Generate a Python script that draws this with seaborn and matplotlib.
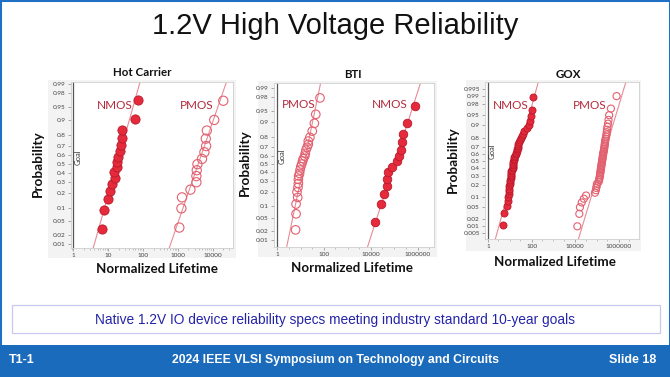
import numpy as np
import pandas as pd
import matplotlib
matplotlib.use('Agg')
import matplotlib.pyplot as plt
import matplotlib.ticker as ticker
from matplotlib.patches import Rectangle
import seaborn as sns
from statistics import NormalDist

# ---- data (normalized lifetime, cumulative probability) ----
hc_nmos_life = [6.5, 7.8, 10, 11.3, 12.6, 15.4, 15.1, 17.4, 17.4, 18.6, 21.9, 23.4, 24.5, 25.7, 59, 73]
hc_nmos_prob = [0.031, 0.092, 0.158, 0.218, 0.28, 0.34, 0.405, 0.47, 0.53, 0.585, 0.65, 0.71, 0.78, 0.84, 0.905, 0.969]
hc_pmos_life = [1100, 1260, 1310, 2290, 3390, 3390, 3470, 3630, 4900, 5750, 6450, 6300, 6750, 11000, 20000]
hc_pmos_prob = [0.033, 0.10, 0.168, 0.23, 0.30, 0.365, 0.43, 0.5, 0.56, 0.635, 0.70, 0.77, 0.835, 0.90, 0.967]

bti_pmos_life = [6.0, 6.3, 6.3, 7.4, 6.9, 7.6, 7.9, 7.9, 8.1, 8.9, 9.3, 10.0, 11.0, 12.0, 12.9, 14.8,
                 15.5, 16.6, 18.6, 20.9, 20.9, 24.5, 30.9, 38.0, 43.7, 66.1]
bti_pmos_prob = [0.022, 0.064, 0.111, 0.154, 0.197, 0.239, 0.278, 0.321, 0.359, 0.389, 0.429, 0.469, 0.502,
                 0.539, 0.567, 0.599, 0.63, 0.667, 0.698, 0.729, 0.761, 0.795, 0.845, 0.895, 0.937, 0.979]
bti_nmos_life = [14800, 26300, 37200, 46800, 49000, 55000, 81300, 123000, 155000, 182000, 204000, 240000,
                 331000, 741000]
bti_nmos_prob = [0.037, 0.109, 0.18, 0.25, 0.33, 0.40, 0.47, 0.54, 0.60, 0.67, 0.755, 0.82, 0.895, 0.963]

gox_nmos_life = [5.0, 5.6, 7.2, 8.5, 8.7, 8.9, 9.1, 9.3, 9.5, 10.2, 10.5, 10.7, 11.0, 11.2, 11.5, 11.7,
                 12.0, 12.6, 13.5, 13.8, 14.1, 14.5, 14.8, 15.1, 15.5, 15.8, 16.6, 19.1, 20.0, 20.9, 21.9,
                 22.9, 24.0, 25.1, 27.5, 30.9, 33.1, 36.3, 39.8, 42.7, 60.3, 75.9, 85.1, 95.5, 105, 112]
gox_nmos_prob = [0.011, 0.033, 0.054, 0.076, 0.098, 0.12, 0.141, 0.163, 0.185, 0.207, 0.228, 0.25, 0.272,
                 0.293, 0.315, 0.337, 0.359, 0.38, 0.402, 0.424, 0.446, 0.467, 0.489, 0.511, 0.533, 0.554,
                 0.576, 0.598, 0.62, 0.641, 0.663, 0.685, 0.707, 0.728, 0.75, 0.772, 0.793, 0.815, 0.837,
                 0.859, 0.88, 0.902, 0.924, 0.946, 0.967, 0.989]
gox_pmos_life = [12600, 15500, 16600, 20000, 25100, 31600, 81300, 89100, 93300, 97700, 100000, 120000,
                 126000, 129000, 135000, 138000, 141000, 145000, 148000, 151000, 155000, 158000, 162000,
                 166000, 170000, 174000, 178000, 182000, 186000, 191000, 195000, 200000, 209000, 214000,
                 219000, 224000, 229000, 234000, 240000, 251000, 263000, 275000, 282000, 288000, 302000,
                 324000, 339000, 363000, 437000, 794000]
gox_pmos_prob = [0.01, 0.03, 0.05, 0.07, 0.09, 0.11, 0.13, 0.15, 0.17, 0.19, 0.21, 0.23, 0.25, 0.27, 0.29,
                 0.31, 0.33, 0.35, 0.37, 0.39, 0.41, 0.43, 0.45, 0.47, 0.49, 0.51, 0.53, 0.55, 0.57, 0.59,
                 0.61, 0.63, 0.65, 0.67, 0.69, 0.71, 0.73, 0.75, 0.77, 0.79, 0.81, 0.83, 0.85, 0.87, 0.89,
                 0.91, 0.93, 0.95, 0.97, 0.99]

# lognormal fit lines: log10 median and log10 sigma
hc_nmos_fit = (1.25, 0.279)
hc_pmos_fit = (3.58, 0.341)
bti_pmos_fit = (1.13, 0.288)
bti_nmos_fit = (4.99, 0.450)
gox_nmos_fit = (1.315, 0.351)
gox_pmos_fit = (5.23, 0.388)

prob_ticks = [0.01, 0.02, 0.05, 0.1, 0.2, 0.3, 0.4, 0.5, 0.6, 0.7, 0.8, 0.9, 0.95, 0.98, 0.99]
prob_ticks_gox = [0.005] + prob_ticks + [0.995]

W, H = 670, 377
RED = '#e52a3c'
RED_EDGE = '#b8192b'
PINK = '#e2606f'
LINE = '#e88b95'
LBL = '#b3293a'
nd = NormalDist()


def fx(px):
    return px / W


def fy(py):
    return 1 - py / H


def series_df(life, prob, name):
    return pd.DataFrame({'life': life, 'z': [nd.inv_cdf(p) for p in prob], 'dev': name})


panels = [
    dict(title='Hot Carrier', box=(71, 81.7, 233, 248), bg=(48, 80, 236, 258),
         xlim=(0.86, 38000), ylim=(-2.43, 2.39), yt=prob_ticks,
         xmaj=[1, 10, 100, 1000, 10000], xmin_dec=False,
         tpos=(142, 73), ypos=(37.5, 164), xpos=(157, 269), ms=44, goal_z=0.21,
         series=[(hc_nmos_life, hc_nmos_prob, hc_nmos_fit, 'NMOS', True, (15.7, 1.69)),
                 (hc_pmos_life, hc_pmos_prob, hc_pmos_fit, 'PMOS', False, (3470, 1.69))]),
    dict(title='BTI', box=(274, 82.7, 434.3, 246.7), bg=(258, 81, 437, 257),
         xlim=(0.72, 5.0e6), ylim=(-2.53, 2.50), yt=prob_ticks,
         xmaj=[1, 100, 10000, 1000000], xmin_dec=True,
         tpos=(353, 75), ypos=(245, 163), xpos=(352, 268), ms=38, goal_z=0.23,
         series=[(bti_pmos_life, bti_pmos_prob, bti_pmos_fit, 'PMOS', False, (7.9, 1.82)),
                 (bti_nmos_life, bti_nmos_prob, bti_nmos_fit, 'NMOS', True, (64600, 1.82))]),
    dict(title='GOX', box=(485, 82, 639, 239), bg=(466, 80, 641, 251),
         xlim=(0.73, 8.5e6), ylim=(-2.78, 2.83), yt=prob_ticks_gox,
         xmaj=[1, 100, 10000, 1000000], xmin_dec=True,
         tpos=(568, 75), ypos=(453, 160), xpos=(555, 262), ms=26, goal_z=0.34,
         series=[(gox_nmos_life, gox_nmos_prob, gox_nmos_fit, 'NMOS', True, (11, 1.98)),
                 (gox_pmos_life, gox_pmos_prob, gox_pmos_fit, 'PMOS', False, (47900, 1.98))]),
]

sns.set_style('white')
plt.rcParams['font.family'] = ['Lato', 'DejaVu Sans']
fig = plt.figure(figsize=(6.7, 3.77), dpi=100)
fig.patch.set_facecolor('white')

# slide frame, footer bar and note box
fig.patches.append(Rectangle((0, 0), 1, 1, transform=fig.transFigure, fill=False,
                             edgecolor='#1f6fc5', linewidth=2.2, zorder=0))
fig.patches.append(Rectangle((0, 0), 1, fy(345), transform=fig.transFigure,
                             facecolor='#1b6bbd', edgecolor='none', zorder=1))
fig.patches.append(Rectangle((fx(12), fy(333)), fx(648), (333 - 305) / H, transform=fig.transFigure,
                             facecolor='white', edgecolor='#c9c9ee', linewidth=0.9, zorder=1))

fig.text(0.5, fy(26), '1.2V High Voltage Reliability', ha='center', va='center', fontsize=21,
         family=['Liberation Sans', 'DejaVu Sans'], color='#111111')
fig.text(0.5, fy(320), 'Native 1.2V IO device reliability specs meeting industry standard 10-year goals',
         ha='center', va='center', fontsize=9.9, color='#2424a8',
         family=['Liberation Sans', 'DejaVu Sans'])
footer_font = ['Liberation Sans', 'DejaVu Sans']
fig.text(fx(9), fy(360), 'T1-1', ha='left', va='center', fontsize=9, color='white',
         weight='bold', family=footer_font)
fig.text(0.5, fy(360), '2024 IEEE VLSI Symposium on Technology and Circuits', ha='center', va='center',
         fontsize=8.8, color='white', weight='bold', family=footer_font)
fig.text(fx(656), fy(360), 'Slide 18', ha='right', va='center', fontsize=9, color='white',
         weight='bold', family=footer_font)

for p in panels:
    x0, y0, x1, y1 = p['bg']
    fig.patches.append(Rectangle((fx(x0), fy(y1)), fx(x1 - x0), (y1 - y0) / H, transform=fig.transFigure,
                                 facecolor='#f3f3f3', edgecolor='none', zorder=1))
    l, t, r, b = p['box']
    ax = fig.add_axes([fx(l), fy(b), fx(r - l), (b - t) / H])
    ax.set_zorder(2)
    ax.set_facecolor('white')
    ax.set_xscale('log')

    xs = np.logspace(np.log10(p['xlim'][0]), np.log10(p['xlim'][1]), 200)
    for life, prob, fit, name, filled, lab in p['series']:
        d = series_df(life, prob, name)
        zs = (np.log10(xs) - fit[0]) / fit[1]
        sns.lineplot(x=xs, y=zs, ax=ax, color=LINE, linewidth=0.8, zorder=2)
        if filled:
            sns.scatterplot(data=d, x='life', y='z', ax=ax, s=p['ms'], color=RED,
                            edgecolor=RED_EDGE, linewidth=0.6, zorder=3)
        else:
            sns.scatterplot(data=d, x='life', y='z', ax=ax, s=p['ms'], color='white',
                            edgecolor=PINK, linewidth=0.8, zorder=3)
            ax.collections[-1].set_facecolor('none')
        ax.text(lab[0], lab[1], name, ha='center', va='center', fontsize=8.5, color=LBL, zorder=4)

    ax.axvline(1, color='#555555', linewidth=0.9, zorder=1)
    ax.text(1.12, p['goal_z'], 'Goal', rotation=90, ha='left', va='center', fontsize=5.5, color='#333333')

    ax.set_xlim(*p['xlim'])
    ax.set_ylim(*p['ylim'])
    ax.set_yticks([nd.inv_cdf(v) for v in p['yt']])
    ax.set_yticklabels([str(v) for v in p['yt']])
    ax.xaxis.set_major_locator(ticker.FixedLocator(p['xmaj']))
    ax.xaxis.set_major_formatter(ticker.FixedFormatter([str(v) for v in p['xmaj']]))
    if p['xmin_dec']:
        ax.xaxis.set_minor_locator(ticker.LogLocator(base=10, subs=(1.0, 3.0), numticks=20))
    else:
        ax.xaxis.set_minor_locator(ticker.LogLocator(base=10, subs=np.arange(2, 10), numticks=20))
    ax.xaxis.set_minor_formatter(ticker.NullFormatter())
    ax.tick_params(axis='both', which='major', labelsize=4.6, labelcolor='#444444', color='#888888',
                   length=2.2, width=0.5, pad=1.5, direction='out', left=True, bottom=True)
    ax.tick_params(axis='x', which='minor', length=1.2, width=0.4, color='#999999', bottom=True)
    for s in ax.spines.values():
        s.set_color('#cfcfcf')
        s.set_linewidth(0.6)
    ax.set_xlabel('')
    ax.set_ylabel('')

    fig.text(fx(p['tpos'][0]), fy(p['tpos'][1]), p['title'], ha='center', va='center',
             fontsize=8.3, weight='bold', color='#111111')
    fig.text(fx(p['ypos'][0]), fy(p['ypos'][1]), 'Probability', ha='center', va='center', rotation=90,
             fontsize=9.8, weight='bold', color='#111111')
    fig.text(fx(p['xpos'][0]), fy(p['xpos'][1]), 'Normalized Lifetime', ha='center', va='center',
             fontsize=9.6, weight='bold', color='#111111')

fig.savefig('out.png', dpi=100)
